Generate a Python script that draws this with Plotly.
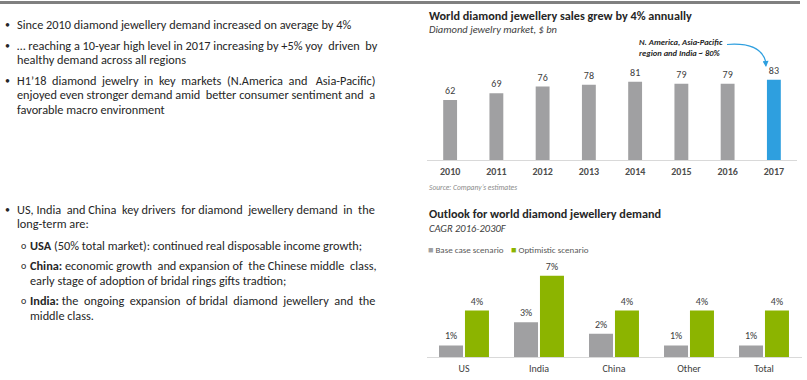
import plotly.graph_objects as go

# ---------------- data ----------------
years = ["2010", "2011", "2012", "2013", "2014", "2015", "2016", "2017"]
sales_bn = [62, 69, 76, 78, 81, 79, 79, 83]

regions = ["US", "India", "China", "Other", "Total"]
base_case = [1, 3, 2, 1, 1]
optimistic = [4, 7, 4, 4, 4]

W, H = 807, 380
FONT = "Carlito, Lato, sans-serif"
GRAY = "#A0A0A2"
BLUE = "#2E9FDF"
GREEN = "#8CB400"
DARK = "#262626"
MID = "#404040"
NBSP = "\u00a0"


def px(x):
    return x / W


def py(y):
    return 1 - y / H


def justify(line, extra):
    """Widen word gaps with non-breaking spaces to mimic justified text."""
    if extra <= 0:
        return line
    words = line.split(" ")
    gaps = len(words) - 1
    out = words[0]
    for i in range(1, len(words)):
        k = (extra * i) // gaps - (extra * (i - 1)) // gaps
        out += " " + NBSP * k + words[i]
    return out


fig = go.Figure()

bar_colors = [GRAY] * (len(years) - 1) + [BLUE]
fig.add_trace(go.Bar(
    x=years, y=sales_bn, marker=dict(color=bar_colors, line=dict(width=0)),
    width=0.3, text=[str(v) for v in sales_bn], textposition="outside",
    textfont=dict(family=FONT, size=10, color=MID), constraintext="none",
    cliponaxis=False, xaxis="x", yaxis="y", showlegend=False, hoverinfo="x+y",
))

fig.add_trace(go.Bar(
    x=regions, y=base_case, name="Base case scenario",
    marker=dict(color=GRAY, line=dict(width=0)), width=0.32, offset=-0.333,
    text=[f"{v}%" for v in base_case], textposition="outside",
    textfont=dict(family=FONT, size=10, color=MID), constraintext="none",
    cliponaxis=False, xaxis="x2", yaxis="y2", showlegend=False,
))
fig.add_trace(go.Bar(
    x=regions, y=optimistic, name="Optimistic scenario",
    marker=dict(color=GREEN, line=dict(width=0)), width=0.32, offset=0.013,
    text=[f"{v}%" for v in optimistic], textposition="outside",
    textfont=dict(family=FONT, size=10, color=MID), constraintext="none",
    cliponaxis=False, xaxis="x2", yaxis="y2", showlegend=False,
))

annotations = []


def txt(x, y, s, size=12.3, color=DARK, xanchor="left", align="left"):
    annotations.append(dict(
        x=px(x), y=py(y), xref="paper", yref="paper", text=s, showarrow=False,
        xanchor=xanchor, yanchor="middle", align=align,
        font=dict(family=FONT, size=size, color=color),
    ))


# ---- left-hand bullet text: (y, [(line, extra spacing for justification)]) ----
bullets = [
    (25, [("Since 2010 diamond jewellery demand increased on average by 4%", 0)]),
    (45, [("… reaching a 10-year high level in 2017 increasing by +5% yoy  driven by", 1),
          ("healthy demand across all regions", 0)]),
    (80, [("H1’18 diamond jewelry in key markets (N.America and Asia-Pacific)", 9),
          ("enjoyed even stronger demand amid better consumer sentiment and a", 2),
          ("favorable macro environment", 0)]),
    (209, [("US, India and China key drivers for diamond jewellery demand in the", 6),
           ("long-term are:", 0)]),
]
for y0, lines in bullets:
    txt(3, y0, "•", size=10)
    for i, (line, extra) in enumerate(lines):
        txt(15, y0 + i * 14.8, justify(line, extra))

subs = [
    (245, [("<b>USA</b> (50% total market): continued real disposable income growth;", 0)]),
    (265, [("<b>China:</b> economic growth and expansion of the Chinese middle class,", 3),
           ("early stage of adoption of bridal rings gifts tradtion;", 0)]),
    (300, [("<b>India:</b> the ongoing expansion of bridal diamond jewellery and the", 7),
           ("middle class.", 0)]),
]
for y0, lines in subs:
    txt(19, y0, "o", size=10)
    for i, (line, extra) in enumerate(lines):
        txt(28, y0 + i * 15.5, justify(line, extra))

# ---- chart titles ----
txt(427, 15, "<b>World diamond jewellery sales grew by 4% annually</b>", size=12.2, color=DARK)
txt(427, 29.5, "<i>Diamond jewelry market, $ bn</i>", size=10.5, color=MID)
txt(427, 187, "<i>Source: Company’s estimates</i>", size=7.5, color="#8C8C8C")
txt(637, 48, "<b><i>N. America, Asia-Pacific<br>region and India ~ 80%</i></b>", size=8.5, color=DARK)

txt(427, 213, "<b>Outlook for world diamond jewellery demand</b>", size=12.2, color=DARK)
txt(427, 228.5, "<i>CAGR 2016-2030F</i>", size=10.5, color=MID)
txt(426, 249, f"<span style='color:{GRAY}'>■</span> Base case scenario", size=9, color="#595959")
txt(509, 249, f"<span style='color:{GREEN}'>■</span> Optimistic scenario", size=9, color="#595959")

# arrowhead for the callout
annotations.append(dict(
    x=px(766), y=py(67), xref="paper", yref="paper", ax=-0.5, ay=-7,
    text="", showarrow=True, arrowhead=2,
    arrowsize=1, arrowwidth=1.2, arrowcolor=BLUE,
))

shapes = [
    dict(type="path", xref="paper", yref="paper",
         path=f"M 0 {py(2.5)} L {px(800)} {py(2.5)}",
         line=dict(color="#808080", width=3), layer="above"),
    dict(type="path", xref="paper", yref="paper",
         path=f"M {px(727)} {py(44.5)} Q {px(760)} {py(42)} {px(765.5)} {py(61)}",
         line=dict(color=BLUE, width=1.2)),
]

axis_common = dict(showgrid=False, zeroline=False, ticks="", showline=True,
                   linecolor="#D9D9D9", linewidth=1, fixedrange=True, ticklabelstandoff=2)

fig.update_layout(
    width=W, height=H, margin=dict(l=0, r=0, t=0, b=0),
    paper_bgcolor="white", plot_bgcolor="white", barmode="overlay",
    font=dict(family=FONT, color=DARK),
    xaxis=dict(domain=[px(427), px(797)], anchor="y", type="category",
               range=[-0.5, len(years) - 0.5],
               tickfont=dict(family=FONT, size=10, color="#4D4D4D", weight="bold"), **axis_common),
    yaxis=dict(domain=[py(160), py(63.4)], range=[0, 100], visible=False, fixedrange=True),
    xaxis2=dict(domain=[px(426.5), px(801.5)], anchor="y2", type="category",
                range=[-0.5, len(regions) - 0.5],
                tickfont=dict(family=FONT, size=10, color=MID), **axis_common),
    yaxis2=dict(domain=[py(357), py(264.2)], range=[0, 8], visible=False, fixedrange=True),
    annotations=annotations, shapes=shapes,
)

fig.write_html("out.html", config={"displayModeBar": False},
               post_script="document.body.style.margin='0';")
